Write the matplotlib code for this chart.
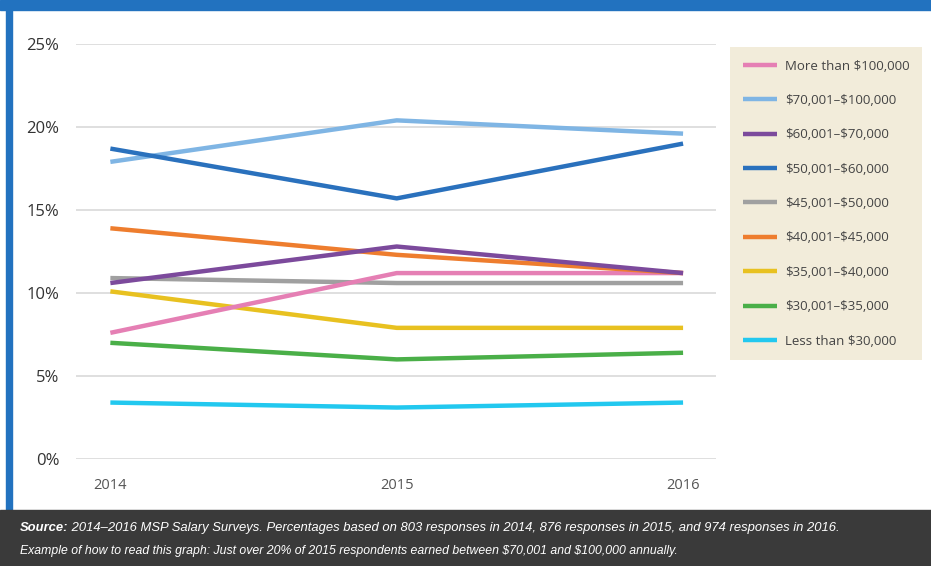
import matplotlib.pyplot as plt
from matplotlib.patches import Rectangle

plt.rcParams['text.parse_math'] = False

years = [2014, 2015, 2016]
labels = ['More than $100,000', '$70,001\u2013$100,000', '$60,001\u2013$70,000',
          '$50,001\u2013$60,000', '$45,001\u2013$50,000', '$40,001\u2013$45,000',
          '$35,001\u2013$40,000', '$30,001\u2013$35,000', 'Less than $30,000']
more_100k = [7.6, 11.2, 11.2]
k70_100 = [17.9, 20.4, 19.6]
k60_70 = [10.6, 12.8, 11.2]
k50_60 = [18.7, 15.7, 19.0]
k45_50 = [10.9, 10.6, 10.6]
k40_45 = [13.9, 12.3, 11.2]
k35_40 = [10.1, 7.9, 7.9]
k30_35 = [7.0, 6.0, 6.4]
less_30k = [3.4, 3.1, 3.4]
colors = ['#e57fb4', '#7fb5e4', '#7c4a9c', '#2a71bd', '#a0a0a0',
          '#ee7d2e', '#e8c120', '#4aaf48', '#22c8ef']
series = [more_100k, k70_100, k60_70, k50_60, k45_50, k40_45, k35_40, k30_35, less_30k]
# draw order: bottom lines first so overlaps look like the original
draw_order = [8, 7, 6, 4, 0, 5, 2, 1, 3]

fig = plt.figure(figsize=(9.31, 5.66), dpi=100)
fig.patch.set_facecolor('white')

# frame decorations
fig.add_artist(Rectangle((0, 1 - 10 / 566), 1, 10 / 566, transform=fig.transFigure,
                         color='#2272bf', zorder=0))
fig.add_artist(Rectangle((6 / 931, 56 / 566), 6 / 931, 1 - 56 / 566, transform=fig.transFigure,
                         color='#2272bf', zorder=0))
fig.add_artist(Rectangle((0, 0), 1, 56 / 566, transform=fig.transFigure,
                         color='#3a3a3a', zorder=0))

ax = fig.add_axes([76 / 931, 1 - 459 / 566, 640 / 931, 415 / 566])
handles = [None] * len(series)
for i in draw_order:
    h, = ax.plot(years, series[i], color=colors[i], lw=3.2, solid_capstyle='butt', zorder=3)
    handles[i] = h

ax.set_xlim(2013.88, 2016.115)
ax.set_ylim(0, 25)
ax.set_yticks([0, 5, 10, 15, 20, 25])
ax.set_yticklabels(['0%', '5%', '10%', '15%', '20%', '25%'])
ax.set_xticks(years)
ax.set_xticklabels([str(y) for y in years])
ax.grid(axis='y', color='#d9d9d9', lw=1.2)
ax.set_axisbelow(True)
for s in ax.spines.values():
    s.set_visible(False)
ax.tick_params(axis='both', length=0)
ax.tick_params(axis='y', pad=12, labelsize=12, labelcolor='#333333')
ax.tick_params(axis='x', pad=14, labelsize=10.5, labelcolor='#555555')
for t in ax.get_yticklabels() + ax.get_xticklabels():
    t.set_fontfamily('Open Sans')

leg = ax.legend(handles, labels, loc='upper left', bbox_to_anchor=(730 / 931, 1 - 47 / 566),
                bbox_transform=fig.transFigure, frameon=True, fancybox=False,
                facecolor='#f2ecda', edgecolor='none', framealpha=1,
                prop={'family': 'Open Sans', 'size': 9.5}, labelcolor='#444444',
                handlelength=2.6, handletextpad=0.6, labelspacing=1.62,
                borderpad=0.95, borderaxespad=0)

foot_font = 'Liberation Sans'
t1 = fig.text(20 / 931, 1 - 528 / 566, 'Source:', color='white', fontsize=9.4,
              fontweight='bold', fontstyle='italic', family=foot_font, va='center')
ax.annotate(' 2014\u20132016 MSP Salary Surveys. Percentages based on 803 responses in 2014, '
            '876 responses in 2015, and 974 responses in 2016.',
            xy=(1, 0), xycoords=t1, va='bottom', ha='left', color='white', fontsize=9.4,
            fontstyle='italic', family=foot_font, annotation_clip=False)
fig.text(20 / 931, 1 - 551 / 566, 'Example of how to read this graph: Just over 20% of 2015 '
         'respondents earned between $70,001 and $100,000 annually.',
         color='white', fontsize=8.8, fontstyle='italic', family=foot_font, va='center')

fig.savefig('out.png', dpi=100)
